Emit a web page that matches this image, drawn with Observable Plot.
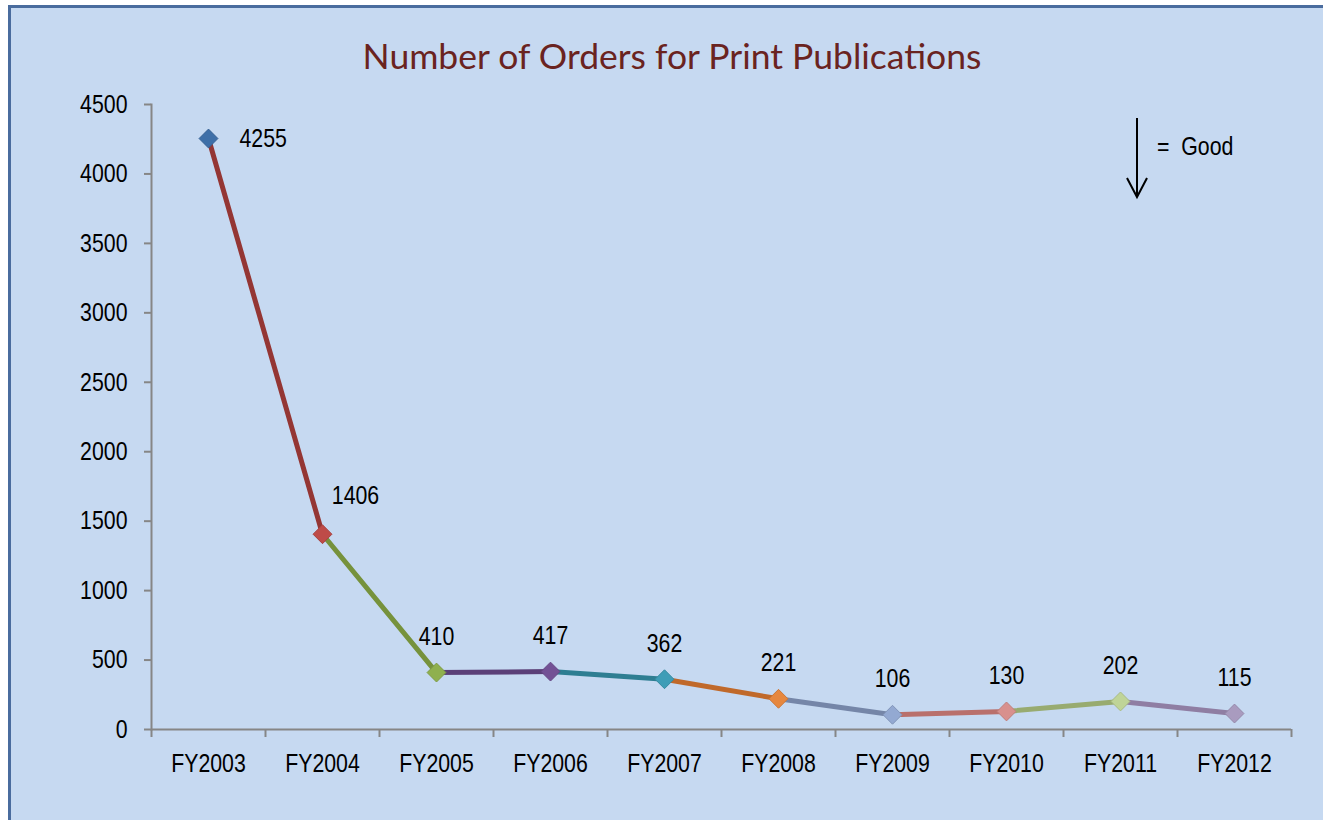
<!DOCTYPE html>
<html><head><meta charset="utf-8">
<script src="https://cdn.jsdelivr.net/npm/d3@7"></script>
<script src="https://cdn.jsdelivr.net/npm/@observablehq/plot@0.6"></script>
<style>
body{margin:0;background:#fff;width:1323px;height:820px;overflow:hidden;position:relative;font-family:"Liberation Sans",Arial,sans-serif;}
#frame{position:absolute;left:8px;top:5px;width:1340px;height:840px;background:#c6d9f1;border:3px solid #4a6c9e;box-sizing:border-box;}
#title{position:absolute;left:0;top:35px;width:1344px;text-align:center;font-family:Lato,"Open Sans",sans-serif;font-size:35.5px;line-height:42px;color:#6a2320;white-space:nowrap;}
#chart{position:absolute;left:0;top:0;}
#good{position:absolute;left:0;top:0;}
</style></head>
<body>
<div id="frame"></div>
<div id="title">Number of Orders for Print Publications</div>
<div id="chart"></div>
<svg id="good" width="1323" height="820" style="pointer-events:none">
  <g stroke="#000" stroke-width="2" fill="none">
    <line x1="1137" y1="118" x2="1137" y2="197"></line>
    <polyline points="1127,178 1137,197 1147,178"></polyline>
  </g>
  <text transform="translate(1157,155) scale(0.82,1)" font-size="26" fill="#000" font-family="'Liberation Sans',Arial,sans-serif" xml:space="preserve">=  Good</text>
</svg>
<script>
const years = ["FY2003","FY2004","FY2005","FY2006","FY2007","FY2008","FY2009","FY2010","FY2011","FY2012"];
const orders = [4255, 1406, 410, 417, 362, 221, 106, 130, 202, 115];
const yTicks = [0, 500, 1000, 1500, 2000, 2500, 3000, 3500, 4000, 4500];
const markerColors = ["#3e6fa8","#be4b48","#8fb04e","#735195","#3e9db7","#e6873e","#93a9d2","#d8908d","#bfd498","#a99bbf"];
const segmentColors = ["#943634","#76923c","#5b4078","#2e7e92","#c0692a","#7586a8","#b9706c","#98ab70","#8f7ea3"];

const W = 1323, H = 820, mL = 151, mR = 32, mT = 104, mB = 91;
const step = (W - mL - mR) / years.length;
const narrow = 0.82;

const pts = years.map((y, i) => ({year: y, value: orders[i], fill: markerColors[i], stroke: d3.color(markerColors[i]).darker(0.35).formatHex(), i}));
const segs = years.slice(1).map((y, i) => ({x1: years[i], y1: orders[i], x2: y, y2: orders[i + 1], c: segmentColors[i]}));
const font = "'Liberation Sans',Arial,sans-serif";

const plot = Plot.plot({
  width: W, height: H,
  marginLeft: mL, marginRight: mR, marginTop: mT, marginBottom: mB,
  style: {background: "transparent", fontFamily: font, fontSize: "26px", color: "#000"},
  x: {type: "point", domain: years, padding: 0.5, align: 0.5},
  y: {domain: [0, 4500]},
  color: {type: "identity"},
  marks: [
    Plot.axisY({ticks: yTicks, tickFormat: d => String(d), tickSize: 7, tickPadding: 17, stroke: "#868686", strokeWidth: 2, fontSize: 26, fill: "#000", label: null}),
    Plot.axisX({tickSize: 0, tickPadding: 24, fontSize: 26, fill: "#000", label: null}),
    Plot.ruleX(years, {x: d => d, y1: 0, y2: 0, insetBottom: -8, dx: -step / 2, stroke: "#868686", strokeWidth: 2}),
    Plot.ruleX(years.slice(-1), {x: d => d, y1: 0, y2: 0, insetBottom: -8, dx: step / 2, stroke: "#868686", strokeWidth: 2}),
    Plot.frame({anchor: "left", stroke: "#868686", strokeWidth: 2}),
    Plot.ruleY([0], {stroke: "#868686", strokeWidth: 2}),
    Plot.link(segs, {x1: "x1", y1: "y1", x2: "x2", y2: "y2", stroke: "c", strokeWidth: 5, strokeLinecap: "round"}),
    Plot.dot(pts, {x: "year", y: "value", symbol: "diamond2", r: 8.5, fill: "fill", stroke: "stroke", strokeWidth: 1}),
    Plot.text(pts.filter(d => d.i === 0), {x: "year", y: "value", text: d => String(d.value), dx: 31, textAnchor: "start", fontSize: 26, fill: "#000"}),
    Plot.text(pts.filter(d => d.i === 1), {x: "year", y: "value", text: d => String(d.value), dx: 33, dy: -39, fontSize: 26, fill: "#000"}),
    Plot.text(pts.filter(d => d.i > 1), {x: "year", y: "value", text: d => String(d.value), dy: -36, fontSize: 26, fill: "#000"})
  ]
});
document.getElementById("chart").appendChild(plot);

// emulate a narrow face (Arial Narrow ≈ Arial at 82% width) by scaling each label about its anchor point
for (const t of plot.querySelectorAll("text")) {
  const tr = t.getAttribute("transform") || "";
  t.setAttribute("transform", `${tr} scale(${narrow},1)`);
}
</script>
</body></html>
